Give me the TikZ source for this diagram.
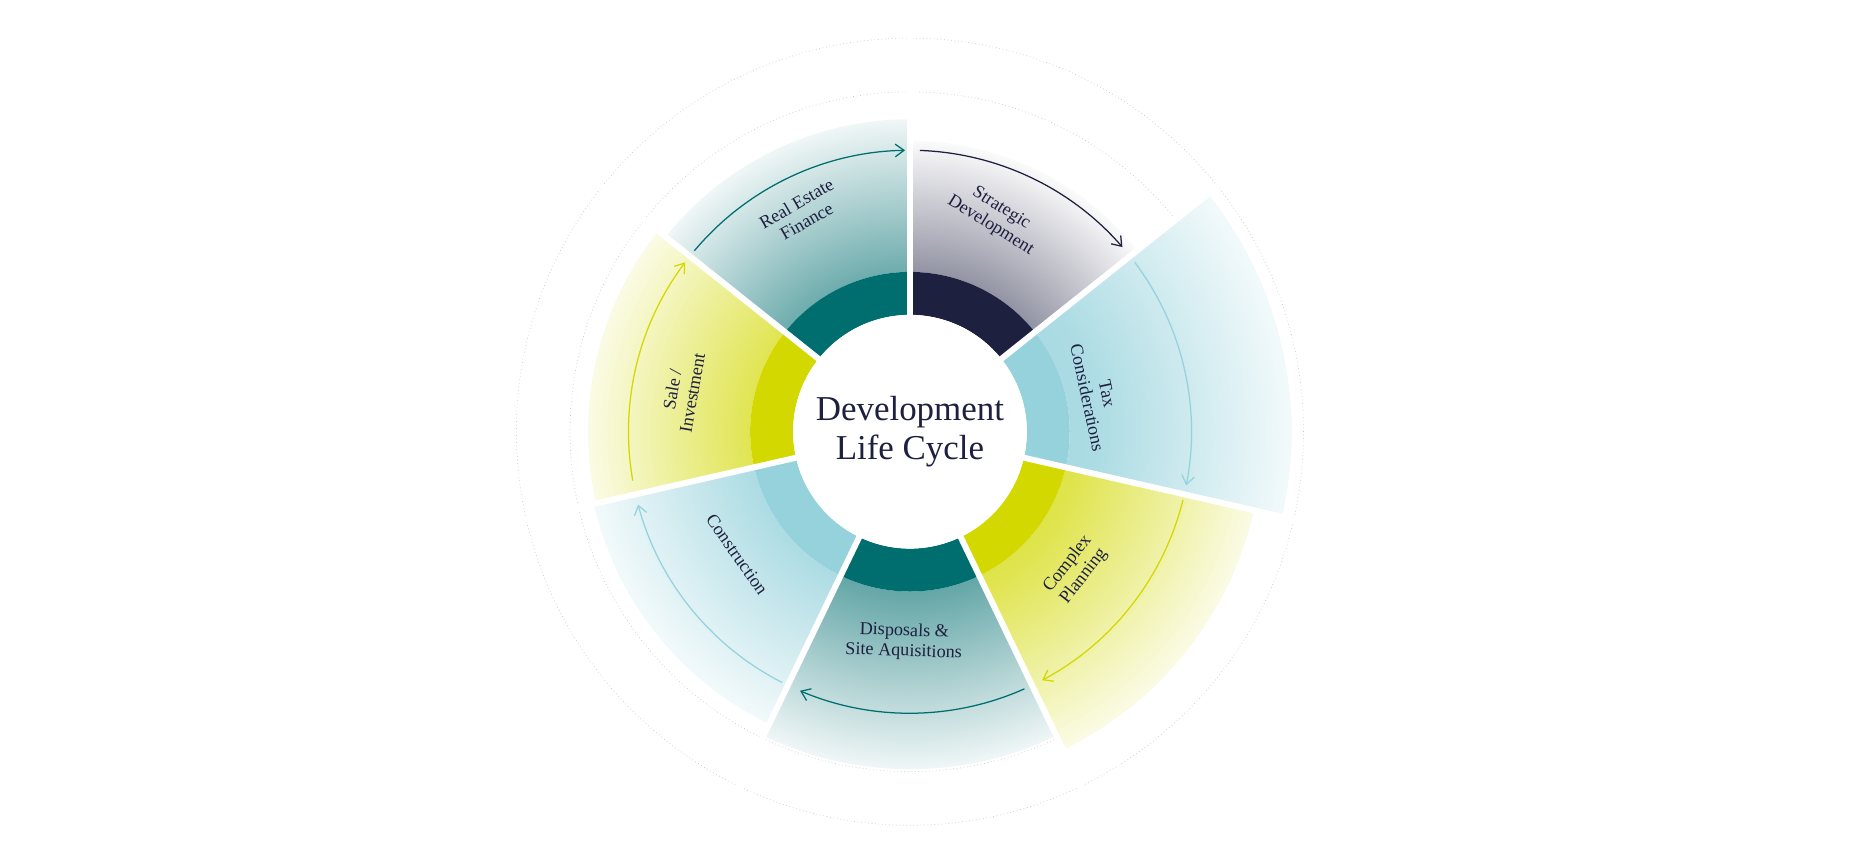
\documentclass[tikz,border=0pt]{standalone}
\usepackage{fontspec}
\setmainfont{Liberation Serif}
\usetikzlibrary{arrows.meta}

\definecolor{cNavy}{HTML}{1E2040}
\definecolor{cTeal}{HTML}{006D6F}
\definecolor{cBlue}{HTML}{96D2DC}
\definecolor{cLime}{HTML}{D2D800}
\definecolor{cDot}{HTML}{C8C8C8}

\pgfdeclareradialshading{shcNavy}{\pgfpoint{0bp}{0bp}}{color(0bp)=(cNavy!65!white); color(12bp)=(cNavy!55!white); color(25bp)=(cNavy!2!white); color(50bp)=(white)}
\pgfdeclareradialshading{shcTeal}{\pgfpoint{0bp}{0bp}}{color(0bp)=(cTeal!65!white); color(12bp)=(cTeal!60!white); color(25bp)=(cTeal!6!white); color(50bp)=(white)}
\pgfdeclareradialshading{shcBlue}{\pgfpoint{0bp}{0bp}}{color(0bp)=(cBlue!90!white); color(12bp)=(cBlue!80!white); color(25bp)=(cBlue!12!white); color(50bp)=(white)}
\pgfdeclareradialshading{shcLime}{\pgfpoint{0bp}{0bp}}{color(0bp)=(cLime!80!white); color(12bp)=(cLime!70!white); color(25bp)=(cLime!10!white); color(50bp)=(white)}

\begin{document}
\begin{tikzpicture}[
        x=0.03cm, y=0.03cm,
        label/.style={font=\fontsize{13}{14.5}\selectfont, text=cNavy, align=center},
        title/.style={font=\fontsize{25}{28}\selectfont, text=cNavy, align=center},
        cyclearrow/.style={-{Straight Barb[length=2.2mm, width=3.2mm]}, line width=0.9pt},
        gap/.style={white, line width=0.15cm},
        dotring/.style={cDot, dotted, line width=0.5pt}
    ]
        \useasboundingbox (-763,-344) rectangle (805,362);

        % dotted rings
        \draw[dotring] (0,0) circle (330);
        \draw[dotring] (0,0) circle (285);

        % segments
        \foreach \a/\r/\c in {90/244/cNavy, 38.57/320/cBlue, -12.86/296/cLime, -64.29/283/cTeal, -115.71/272/cBlue, -167.14/270/cLime, -218.57/262/cTeal} {
            \begin{scope}
                \clip (\a:134) arc[start angle=\a, end angle=\a-51.43, radius=134]
                    -- (\a-51.43:\r) arc[start angle=\a-51.43, end angle=\a, radius=\r] -- cycle;
                \shade[shading=sh\c] (0,0) circle (\r);
            \end{scope}
            \fill[\c] (\a:98) arc[start angle=\a, end angle=\a-51.43, radius=98]
                -- (\a-51.43:134) arc[start angle=\a-51.43, end angle=\a, radius=134] -- cycle;
        }

        % white gaps
        \foreach \a in {90, 38.57, -12.86, -64.29, -115.71, -167.14, -218.57}
            \draw[gap] (0,0) -- (\a:340);
        \fill[white] (0,0) circle (98);

        % cycle arrows
        \foreach \s/\e/\c in {140/91/cTeal, 88/41/cNavy, 37/-11/cBlue, -14/-62/cLime, -66/-113/cTeal, -117/-165/cBlue, -170/-217/cLime}
            \draw[cyclearrow, \c] (\s:236) arc[start angle=\s, end angle=\e, radius=236];

        % texts
        \node[title] (centre) at (0,0) {Development\\Life Cycle};
        \node[label, rotate=30] (ref) at (-91,184) {Real Estate\\Finance};
        \node[label, rotate=-32] (strat) at (72,180) {Strategic\\Development};
        \node[label, rotate=-78] (tax) at (157,30) {Tax\\Considerations};
        \node[label, rotate=52] (plan) at (139,-116) {Complex\\Planning};
        \node[label, rotate=-2] (disp) at (-5,-176) {Disposals \&\\Site Aquisitions};
        \node[label, rotate=-55] (constr) at (-145,-103) {Construction};
        \node[label, rotate=80] (sale) at (-191,34) {Sale /\\Investment};
    \end{tikzpicture}
\end{document}
